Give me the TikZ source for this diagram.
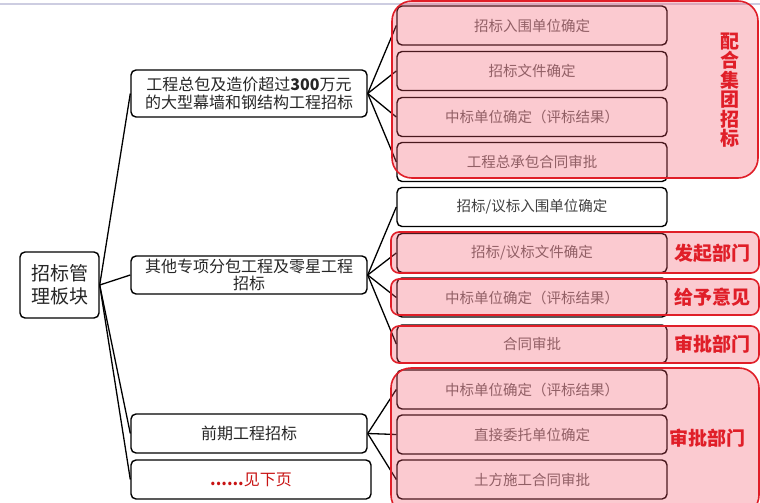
\documentclass[tikz,border=0pt]{standalone}
\usepackage{fontspec}
\setmainfont{Noto Sans CJK SC}
\usetikzlibrary{positioning}
\definecolor{myred}{RGB}{224,30,40}
\definecolor{dred}{RGB}{200,20,20}
\definecolor{pinkfill}{RGB}{245,80,100}
\tikzset{
  mainbox/.style={draw=black, line width=1.4pt, rounded corners=5pt, fill=white, inner sep=0pt, align=center, text=black!85},
  leftbox/.style={mainbox, minimum width=236pt, minimum height=39pt, font=\fontsize{16}{18}\selectfont},
  subbox/.style={draw=black, line width=1.4pt, rounded corners=5pt, fill=white, inner sep=0pt, minimum width=270pt, minimum height=39pt, font=\fontsize{14.5}{16}\selectfont, text=black!60},
  conn/.style={draw=black, line width=1.3pt},
  redgroup/.style={draw=myred, line width=1.6pt, fill=pinkfill, fill opacity=0.3, draw opacity=1},
  redlabel/.style={font=\fontsize{19}{19.5}\selectfont\bfseries, text=myred, inner sep=0pt, align=center}
}
\begin{document}
\begin{tikzpicture}[x=1pt,y=-1pt]
\useasboundingbox (0,0) rectangle (760,503);
\fill[white] (0,0) rectangle (760,503);
\draw[line width=1.5pt, color={rgb,255:red,205;green,205;blue,225}] (0,4) -- (760,4);

% nodes
\node[mainbox, minimum width=79pt, minimum height=66pt, font=\fontsize{19}{23}\selectfont] (root) at (59.5,285) {招标管\\理板块};
\node[leftbox, minimum height=47pt] (A) at (249,93.5) {工程总包及造价超过\textbf{300}万元\\的大型幕墙和钢结构工程招标};
\node[leftbox, minimum height=38pt, font=\fontsize{16}{16.5}\selectfont] (B) at (249,275) {其他专项分包工程及零星工程\\招标};
\node[leftbox] (C) at (249,433.5) {前期工程招标};
\node[leftbox, minimum width=240pt, text=dred] (D) at (251,479.5) {\textbf{......}见下页};

\node[subbox] (s1) at (532,25.5) {招标入围单位确定};
\node[subbox] (s2) at (532,71) {招标文件确定};
\node[subbox] (s3) at (532,117) {中标单位确定（评标结果）};
\node[subbox] (s4) at (532,162) {工程总承包合同审批};
\node[subbox, text=black!75] (s5) at (532,207) {招标/议标入围单位确定};
\node[subbox] (s6) at (532,253) {招标/议标文件确定};
\node[subbox] (s7) at (532,297.5) {中标单位确定（评标结果）};
\node[subbox, minimum height=38pt] (s8) at (532,344) {合同审批};
\node[subbox] (s9) at (532,389.5) {中标单位确定（评标结果）};
\node[subbox] (s10) at (532,434.5) {直接委托单位确定};
\node[subbox] (s11) at (532,479.5) {土方施工合同审批};

% connectors
\foreach \n in {A,B,C,D} \draw[conn] (root.east) -- (\n.west);
\foreach \n in {s1,s2,s3,s4} \draw[conn] (A.east) -- (\n.west);
\foreach \n in {s5,s6,s7,s8} \draw[conn] (B.east) -- (\n.west);
\foreach \n in {s9,s10,s11} \draw[conn] (C.east) -- (\n.west);

% red overlays
\draw[redgroup, rounded corners=20pt] (392,1) rectangle (758,178);
\draw[redgroup, rounded corners=8pt] (391,232) rectangle (759,273);
\draw[redgroup, rounded corners=8pt] (391,279) rectangle (759,315);
\draw[redgroup, rounded corners=8pt] (391,326) rectangle (759,363);
\draw[redgroup, rounded corners=20pt] (391,368) rectangle (759,515);

% labels
\node[redlabel] (l1) at (730,90) {配\\合\\集\\团\\招\\标};
\node[redlabel] (l2) at (712,253) {发起部门};
\node[redlabel] (l3) at (712,297) {给予意见};
\node[redlabel] (l4) at (712,344) {审批部门};
\node[redlabel] (l5) at (707,438) {审批部门};
\end{tikzpicture}
\end{document}
